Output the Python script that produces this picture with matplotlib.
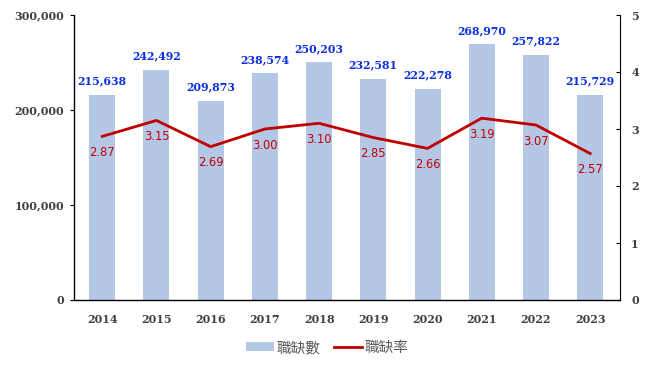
import matplotlib
matplotlib.use("Agg")
import matplotlib.pyplot as plt
from matplotlib.ticker import FuncFormatter
from matplotlib.patches import Patch
from matplotlib.lines import Line2D

years = ["2014", "2015", "2016", "2017", "2018", "2019", "2020", "2021", "2022", "2023"]
vacancies = [215638, 242492, 209873, 238574, 250203, 232581, 222278, 268970, 257822, 215729]
rates = [2.87, 3.15, 2.69, 3.00, 3.10, 2.85, 2.66, 3.19, 3.07, 2.57]

fig = plt.figure(figsize=(6.48, 3.71), dpi=100)
ax = fig.add_axes([74/648, 1-300/371, (620-74)/648, (300-15)/371])
ax2 = ax.twinx()

x = list(range(len(years)))
bar_color = "#b4c7e7"
line_color = "#c00000"
tick_color = "#404040"
serif = "DejaVu Serif"

ax.bar(x, vacancies, width=0.48, color=bar_color, zorder=1)
ax.set_ylim(0, 300000)
ax.set_xlim(-0.52, 9.55)
ax.set_yticks([0, 100000, 200000, 300000])
ax.yaxis.set_major_formatter(FuncFormatter(lambda v, p: f"{int(v):,}"))
ax.set_xticks(x)
ax.set_xticklabels(years)
for lab in ax.get_xticklabels() + ax.get_yticklabels():
    lab.set_fontweight("bold")
    lab.set_fontsize(8)
    lab.set_family(serif)
    lab.set_color(tick_color)
ax.tick_params(axis="x", length=0, pad=10)
ax.tick_params(axis="y", length=3, direction="out", pad=4)
ax.spines["top"].set_visible(False)
ax.spines["right"].set_visible(False)
for s in ["left", "bottom"]:
    ax.spines[s].set_color("black")
    ax.spines[s].set_linewidth(1)

for xi, v in zip(x, vacancies):
    ax.annotate(f"{v:,}", (xi, v), xytext=(0, 6), textcoords="offset points",
                ha="center", va="bottom", color="#0a2ee0", fontsize=7.8,
                fontweight="bold", family=serif)

ax2.plot(x, rates, color=line_color, linewidth=2, zorder=3)
ax2.set_ylim(0, 5)
ax2.set_yticks([0, 1, 2, 3, 4, 5])
for lab in ax2.get_yticklabels():
    lab.set_fontweight("bold")
    lab.set_fontsize(8)
    lab.set_family(serif)
    lab.set_color(tick_color)
ax2.tick_params(axis="y", length=3, direction="in", pad=8)
ax2.spines["top"].set_visible(False)
ax2.spines["left"].set_visible(False)
ax2.spines["bottom"].set_visible(False)
ax2.spines["right"].set_color("black")

for xi, r in zip(x, rates):
    ax2.annotate(f"{r:.2f}", (xi, r), xytext=(0, -7), textcoords="offset points",
                 ha="center", va="top", color=line_color, fontsize=8.3)

handles = [Patch(facecolor=bar_color, edgecolor="none"),
           Line2D([0], [0], color=line_color, linewidth=2)]
fig.legend(handles, ["職缺數", "職缺率"], loc="center", bbox_to_anchor=(0.505, 1-348/371),
           ncol=2, frameon=False, prop={"family": ["Noto Sans CJK TC", "DejaVu Sans"], "size": 10.5},
           labelcolor="#595959", columnspacing=0.9, handlelength=1.9, handleheight=0.6,
           handletextpad=0.2)

fig.savefig("out.png", dpi=100)
